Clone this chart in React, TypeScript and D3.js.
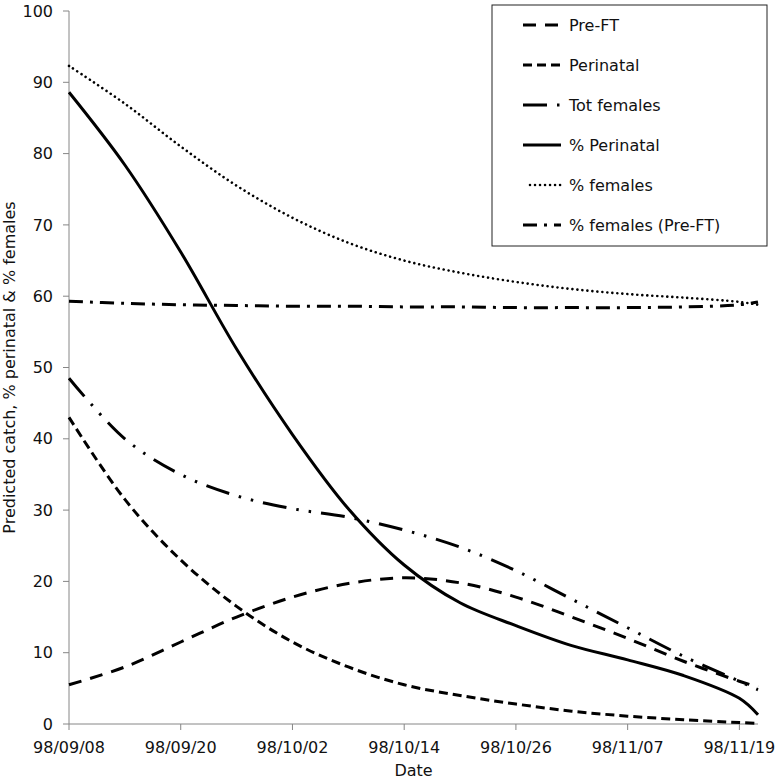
import React from 'react';
import * as d3 from 'd3';

// sample dates (every 6 days + end)
const dates = ['98/09/08', '98/09/14', '98/09/20', '98/09/26', '98/10/02', '98/10/08', '98/10/14',
  '98/10/20', '98/10/26', '98/11/01', '98/11/07', '98/11/13', '98/11/19', '98/11/21'];

const preFT = [5.5, 8, 11.5, 15, 17.8, 19.7, 20.5, 19.8, 17.8, 15, 12, 8.8, 6, 5.2];
const perinatal = [43, 31.5, 23, 16.5, 11.5, 8, 5.5, 4, 2.8, 1.8, 1.1, 0.6, 0.2, 0.1];
const totFemales = [48.5, 40, 35, 32, 30.2, 29, 27.2, 24.8, 21.5, 17.5, 13.5, 9.5, 6, 4.8];
const pctPerinatal = [88.6, 78.4, 66.2, 52.6, 40.6, 30.2, 22.3, 17, 13.8, 11, 9, 6.8, 3.6, 1.3];
const pctFemales = [92.3, 87, 81, 75.5, 71, 67.5, 65, 63.3, 62, 61, 60.3, 59.8, 59.2, 58.8];
const pctFemalesPreFT = [59.3, 59, 58.8, 58.7, 58.6, 58.6, 58.5, 58.5, 58.4, 58.4, 58.4, 58.5, 58.8, 59.2];

const tickDates = ['98/09/08', '98/09/20', '98/10/02', '98/10/14', '98/10/26', '98/11/07', '98/11/19'];
const yTicks = [0, 10, 20, 30, 40, 50, 60, 70, 80, 90, 100];

const series = [
  { name: 'Pre-FT', values: preFT, dash: '13,9', width: 3, cap: 'butt' },
  { name: 'Perinatal', values: perinatal, dash: '9,5', width: 3, cap: 'butt' },
  { name: 'Tot females', values: totFemales, dash: '24,10,2.5,10,2.5,10', width: 3, cap: 'butt' },
  { name: '% Perinatal', values: pctPerinatal, dash: null, width: 3, cap: 'butt' },
  { name: '% females', values: pctFemales, dash: '0.01,5', width: 2.6, cap: 'round' },
  { name: '% females (Pre-FT)', values: pctFemalesPreFT, dash: '14,7,3,7', width: 3, cap: 'butt' },
];

const parse = d3.timeParse('%y/%m/%d');
const fmt = d3.timeFormat('%y/%m/%d');
const font = 'DejaVu Sans, sans-serif';

export default function App() {
  const width = 777;
  const height = 779;
  const margin = { top: 11, right: 19, bottom: 55, left: 69 };

  const x = d3.scaleTime()
    .domain([parse('98/09/08'), parse('98/11/21')])
    .range([margin.left, width - margin.right]);
  const y = d3.scaleLinear()
    .domain([0, 100])
    .range([height - margin.bottom, margin.top]);

  const line = d3.line<number>()
    .x((d, i) => x(parse(dates[i])))
    .y(d => y(d))
    .curve(d3.curveCatmullRom.alpha(0.5));

  const axisColor = '#868686';
  const y0 = y(0);

  return (
    <svg width={width} height={height} style={{ position: 'absolute', left: 0, top: 0 }}>
      <rect width={width} height={height} fill="white" />
      {/* axes */}
      <line x1={margin.left} x2={x.range()[1]} y1={y0} y2={y0} stroke={axisColor} />
      <line x1={margin.left} x2={margin.left} y1={y(100)} y2={y0} stroke={axisColor} />
      {yTicks.map(t => (
        <g key={t}>
          <line x1={margin.left - 6} x2={margin.left} y1={y(t)} y2={y(t)} stroke={axisColor} />
          <text x={margin.left - 16} y={y(t)} dy="0.35em" textAnchor="end"
            fontFamily={font} fontSize={16} fill="#111">{t}</text>
        </g>
      ))}
      {tickDates.map(t => (
        <g key={t}>
          <line x1={x(parse(t))} x2={x(parse(t))} y1={y0} y2={y0 + 6} stroke={axisColor} />
          <text x={x(parse(t))} y={753} textAnchor="middle"
            fontFamily={font} fontSize={16} fill="#111">{fmt(parse(t))}</text>
        </g>
      ))}
      <text x={(margin.left + x.range()[1]) / 2} y={776} textAnchor="middle"
        fontFamily={font} fontSize={16} fill="#111">Date</text>
      <text transform={`translate(15,${(y(0) + y(100)) / 2}) rotate(-90)`} textAnchor="middle"
        fontFamily={font} fontSize={16} fill="#111">Predicted catch, % perinatal &amp; % females</text>

      {/* series */}
      {series.map(s => (
        <path key={s.name} d={line(s.values) || ''} fill="none" stroke="black"
          strokeWidth={s.width} strokeDasharray={s.dash || undefined}
          strokeLinecap={s.cap as any} strokeLinejoin="round" />
      ))}

      {/* legend */}
      <rect x={492} y={5} width={275} height={241} fill="white" stroke="#222" />
      {series.map((s, i) => {
        const ly = 25 + i * 40;
        const x1 = s.name === '% females' ? 530 : 523;
        return (
          <g key={s.name}>
            <line x1={x1} x2={561} y1={ly} y2={ly} stroke="black" strokeWidth={s.width}
              strokeDasharray={s.dash || undefined} strokeLinecap={s.cap as any} />
            <text x={569} y={ly} dy="0.35em" fontFamily={font} fontSize={16} fill="#111">{s.name}</text>
          </g>
        );
      })}
    </svg>
  );
}
